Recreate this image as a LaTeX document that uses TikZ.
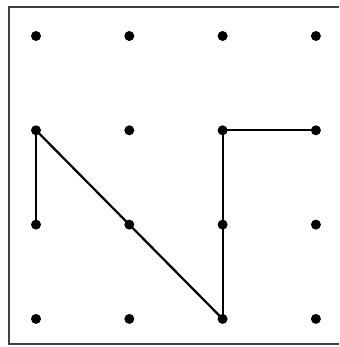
\documentclass[tikz,border=0pt]{standalone}
\usetikzlibrary{positioning}

\begin{document}
\begin{tikzpicture}[
    x=0.03cm, y=-0.03cm,
    pin/.style={
      circle, fill=black, inner sep=0pt,
      minimum size=10*0.03cm
    },
    frameline/.style={
      draw=black!75, line width=2*0.03cm
    },
    seg/.style={
      draw=black, line width=2.2*0.03cm, line cap=round
    }
  ]

  % ---- page and frame ----
  \useasboundingbox (0,0) rectangle (339,347);
  \begin{scope}
    \clip (0,0) rectangle (339,347);
    \draw[frameline] (9,7) rectangle (350,344);
  \end{scope}

  % ---- dots of the grid ----
  \foreach \i in {0,...,3}{
    \foreach \j in {0,...,3}{
      \node[pin] (d\i\j) at ({36+93.3*\i},{36+94.3*\j}) {};
    }
  }

  % ---- the path ----
  \draw[seg] (d02.center) -- (d01.center);
  \draw[seg] (d01.center) -- (d12.center) -- (d23.center);
  \draw[seg] (d23.center) -- (d21.center);
  \draw[seg] (d21.center) -- (d31.center);

\end{tikzpicture}
\end{document}
